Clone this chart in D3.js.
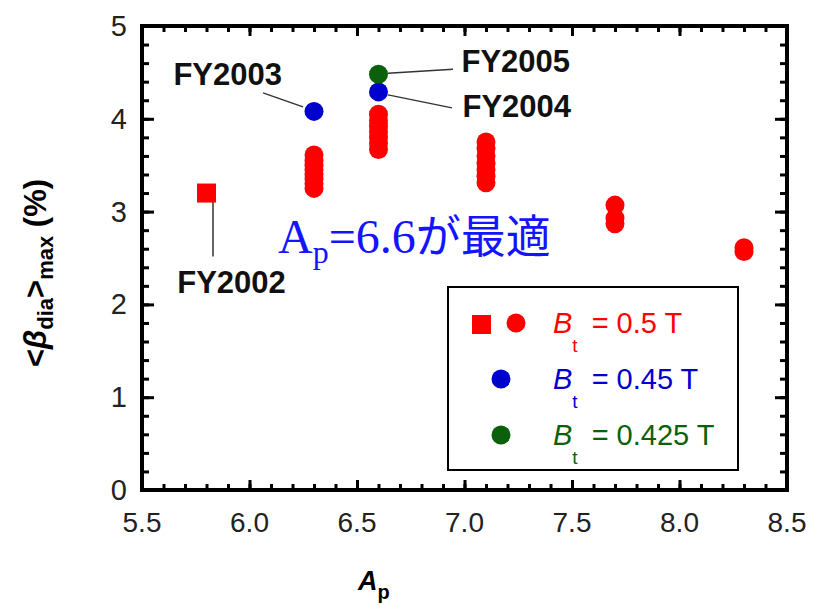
<!DOCTYPE html>
<html>
<head>
<meta charset="utf-8">
<script src="https://cdn.jsdelivr.net/npm/d3@7"></script>
<style>
  body { margin: 0; background: #fff; }
  svg { display: block; }
</style>
</head>
<body>
<div id="chart"></div>
<script>
// data
const apRed = [6.3, 6.3, 6.3, 6.3, 6.3, 6.3, 6.3, 6.3,
  6.6, 6.6, 6.6, 6.6, 6.6, 6.6, 6.6,
  7.1, 7.1, 7.1, 7.1, 7.1, 7.1, 7.1,
  7.7, 7.7, 7.7,
  8.3, 8.3];
const betaRed = [3.61, 3.55, 3.5, 3.45, 3.4, 3.35, 3.3, 3.25,
  4.05, 3.98, 3.92, 3.86, 3.8, 3.74, 3.67,
  3.75, 3.68, 3.6, 3.52, 3.45, 3.38, 3.31,
  3.07, 2.93, 2.87,
  2.61, 2.57];
const apSquare = [5.8];
const betaSquare = [3.2];
const apBlue = [6.3, 6.6];
const betaBlue = [4.08, 4.29];
const apGreen = [6.6];
const betaGreen = [4.48];

const annLabels = ["FY2002", "FY2003", "FY2004", "FY2005"];
const annAp = [5.8, 6.3, 6.6, 6.6];
const annBeta = [3.2, 4.08, 4.29, 4.48];

const xTicks = [5.5, 6.0, 6.5, 7.0, 7.5, 8.0, 8.5];
const yTicks = [0, 1, 2, 3, 4, 5];
const legendValues = ["0.5 T", "0.45 T", "0.425 T"];

const RED = "#ff0000", BLUE = "#0000cc", GREEN = "#0b610b";

const margin = { top: 26, right: 28, bottom: 118, left: 142 },
  width = 815 - margin.left - margin.right,
  height = 608 - margin.top - margin.bottom;

const svg = d3.select("#chart")
  .append("svg")
  .attr("width", 815)
  .attr("height", 608)
  .style("font-family", "'Liberation Sans', Arial, sans-serif");

const chartG = svg.append("g")
  .attr("transform", `translate(${margin.left}, ${margin.top})`);

const x = d3.scaleLinear().domain([5.5, 8.5]).range([0, width]);
const y = d3.scaleLinear().domain([0, 5]).range([height, 0]);

// ticks (inward, on all four sides)
const tickAxes = [
  [d3.axisBottom(x), `translate(0,${height})`, x.ticks(30), 6, xTicks, 10],
  [d3.axisTop(x), "translate(0,0)", x.ticks(30), 6, xTicks, 10],
  [d3.axisLeft(y), "translate(0,0)", y.ticks(25), 7, yTicks, 12],
  [d3.axisRight(y), `translate(${width},0)`, y.ticks(25), 7, yTicks, 12]
];
tickAxes.forEach(([ax, tr, minor, minLen, major, majLen]) => {
  [[minor, minLen], [major, majLen]].forEach(([vals, len]) => {
    const g = chartG.append("g")
      .attr("transform", tr)
      .call(ax.tickValues(vals).tickSize(-len).tickFormat(""));
    g.select(".domain").remove();
    g.selectAll("line").attr("stroke", "#000").attr("stroke-width", 3);
  });
});

chartG.append("rect")
  .attr("width", width)
  .attr("height", height)
  .attr("fill", "none")
  .attr("stroke", "#000")
  .attr("stroke-width", 4);

// tick labels
chartG.selectAll(".xlab")
  .data(xTicks)
  .join("text")
  .attr("x", (d) => x(d))
  .attr("y", height + 42)
  .attr("text-anchor", "middle")
  .attr("font-size", 28)
  .attr("fill", "#222")
  .text((d) => d.toFixed(1));

chartG.selectAll(".ylab")
  .data(yTicks)
  .join("text")
  .attr("x", -15)
  .attr("y", (d) => y(d) + 10)
  .attr("text-anchor", "end")
  .attr("font-size", 29)
  .attr("fill", "#222")
  .text((d) => d);

// axis titles
const xt = svg.append("text")
  .attr("x", 358)
  .attr("y", 590)
  .attr("font-weight", "bold")
  .attr("font-size", 27);
xt.append("tspan").attr("font-style", "italic").text("A");
xt.append("tspan").attr("font-size", 20).attr("dy", 9).text("p");

const yt = svg.append("text")
  .attr("transform", "translate(46,273) rotate(-90)")
  .attr("text-anchor", "middle")
  .attr("font-weight", "bold")
  .attr("font-size", 31);
yt.append("tspan").text("<");
yt.append("tspan").attr("font-style", "italic").text("β");
yt.append("tspan").attr("font-size", 22).attr("dy", 7).text("dia");
yt.append("tspan").attr("dy", -7).text(">");
yt.append("tspan").attr("font-size", 22).attr("dy", 7).text("max");
yt.append("tspan").attr("dy", -7).text(" (%)");

// annotation leader lines and labels
const annLayout = [
  { line: [6.5, 9, 6.5, 63.5], tx: 25, ty: 100, anchor: "middle" },
  { line: [-11, -4.5, -51, -18.5], tx: -32, ty: -26, anchor: "end" },
  { line: [9.5, 3, 73.5, 16], tx: 84, ty: 25, anchor: "start" },
  { line: [9.5, -1, 74.5, -5], tx: 83, ty: -2, anchor: "start" }
];
annLabels.forEach((lab, i) => {
  const px = x(annAp[i]), py = y(annBeta[i]), l = annLayout[i];
  chartG.append("line")
    .attr("x1", px + l.line[0]).attr("y1", py + l.line[1])
    .attr("x2", px + l.line[2]).attr("y2", py + l.line[3])
    .attr("stroke", "#333").attr("stroke-width", 1.5);
  chartG.append("text")
    .attr("x", px + l.tx).attr("y", py + l.ty)
    .attr("text-anchor", l.anchor)
    .attr("font-weight", "bold")
    .attr("font-size", 31)
    .attr("fill", "#111")
    .text(lab);
});

// markers
const sq = 19;
chartG.selectAll(".sq")
  .data(apSquare)
  .join("rect")
  .attr("x", (d) => x(d) - sq / 2)
  .attr("y", (d, i) => y(betaSquare[i]) - sq / 2)
  .attr("width", sq).attr("height", sq)
  .attr("fill", RED);

[[apRed, betaRed, RED], [apBlue, betaBlue, BLUE], [apGreen, betaGreen, GREEN]]
  .forEach(([xs, ys, col]) => {
    chartG.append("g")
      .selectAll("circle")
      .data(xs)
      .join("circle")
      .attr("cx", (d) => x(d))
      .attr("cy", (d, i) => y(ys[i]))
      .attr("r", 9.5)
      .attr("fill", col);
  });

// centre note
const note = svg.append("text")
  .attr("x", 278)
  .attr("y", 253)
  .attr("fill", "#1414ff");
note.append("tspan").attr("font-family", "'Liberation Serif', serif").attr("font-size", 48).text("A");
note.append("tspan").attr("font-family", "'Liberation Serif', serif").attr("font-size", 32).attr("dy", 10).text("p");
note.append("tspan").attr("font-family", "'Liberation Serif', serif").attr("font-size", 48).attr("dy", -10).text("=6.6");
note.append("tspan").attr("font-family", "'Noto Sans CJK JP', sans-serif").attr("font-size", 45).text("が最適");

// legend
const lg = svg.append("g").attr("transform", "translate(448,287)");
lg.append("rect")
  .attr("width", 290).attr("height", 183)
  .attr("fill", "#fff").attr("stroke", "#000").attr("stroke-width", 2);
lg.append("rect").attr("x", 24).attr("y", 28).attr("width", sq).attr("height", sq).attr("fill", RED);
const legendMarks = [[68, 36, RED], [53, 92, BLUE], [53, 148, GREEN]];
legendMarks.forEach(([cx, cy, col]) => {
  lg.append("circle").attr("cx", cx).attr("cy", cy).attr("r", 9.5).attr("fill", col);
});
legendValues.forEach((v, i) => {
  const t = lg.append("text")
    .attr("x", 105)
    .attr("y", 46 + i * 56)
    .attr("font-size", 29)
    .attr("fill", legendMarks[i][2]);
  t.append("tspan").attr("font-style", "italic").text("B");
  t.append("tspan").attr("font-size", 19).attr("dy", 19).text("t");
  t.append("tspan").attr("dy", -19).attr("dx", 14).text("= " + v);
});
</script>
</body>
</html>
